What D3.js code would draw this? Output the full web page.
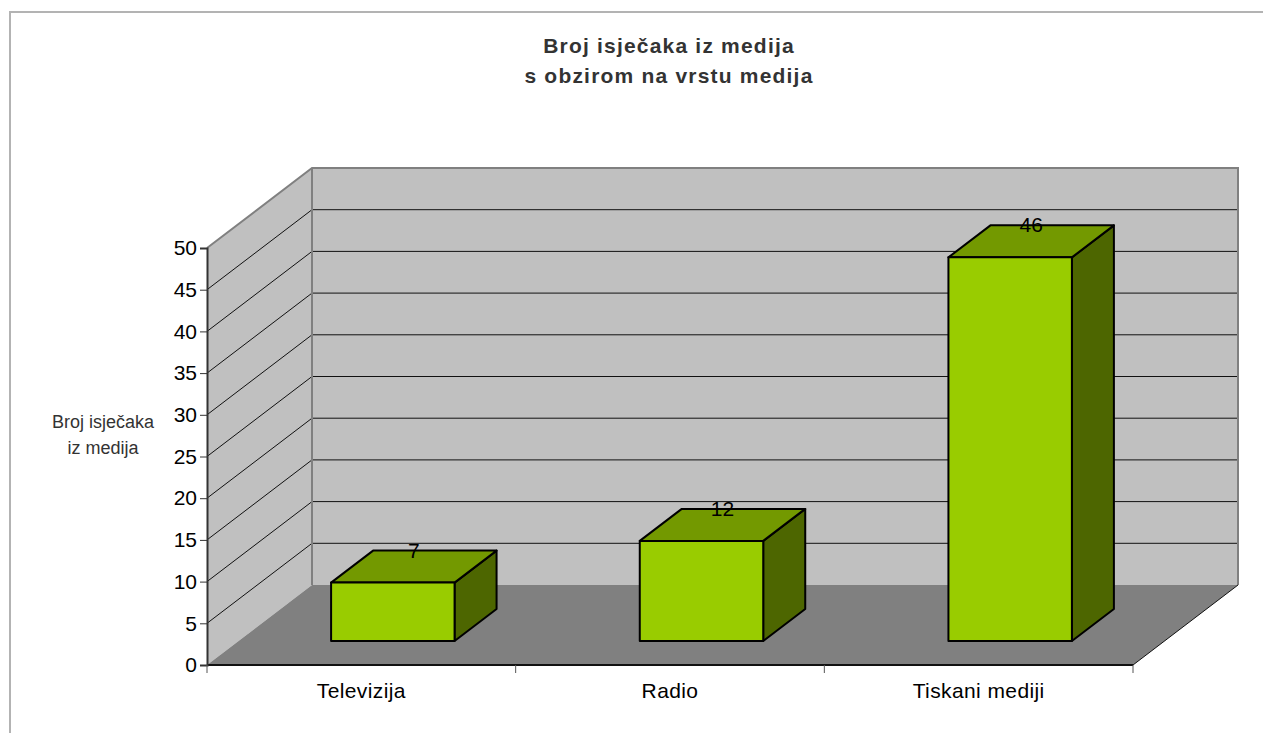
<!DOCTYPE html>
<html>
<head>
  <meta charset='utf-8'>
  <style>
    body { margin: 0; background: #fff; }
    text { font-family: 'Liberation Sans', Arial, sans-serif; }
  </style>
  <script src='https://cdn.jsdelivr.net/npm/d3@7'></script>
</head>
<body>
  <script>
    let [width, height] = [1263, 733]

    let categories = ['Televizija', 'Radio', 'Tiskani mediji']
    let values = [7, 12, 46]
    let yTicks = [0, 5, 10, 15, 20, 25, 30, 35, 40, 45, 50]
    let title = ['Broj isječaka iz medija', 's obzirom na vrstu medija']
    let yTitle = ['Broj isječaka', 'iz medija']

    // depth offset of the 3d box
    let [dx, dy] = [105, -80]
    let [plotL, plotR, plotB, plotT] = [207, 1133, 665, 248]
    let font = "'Liberation Sans', Arial, sans-serif"

    let x = d3.scaleBand(categories, [plotL, plotR]).paddingInner(0.6).paddingOuter(0.3)
    let y = d3.scaleLinear([0, 50], [plotB, plotT])
    let step = x.step()

    // project a point (front x, front y) at depth d (0..1)
    let P = (px, py, d) => [px + dx * d, py + dy * d]
    let poly = pts => 'M' + pts.map(p => p.join(',')).join('L') + 'Z'

    let svg = d3.select('body').append('svg')
      .attr('width', width).attr('height', height)

    // outer frame
    svg.append('rect')
      .attr('x', 10).attr('y', 12).attr('width', 1270).attr('height', 740)
      .attr('fill', 'none').attr('stroke', '#b3b3b3').attr('stroke-width', 2)

    // title
    svg.append('text')
      .attr('text-anchor', 'middle').attr('font-weight', 'bold')
      .attr('font-size', 21).attr('fill', '#333').attr('letter-spacing', 1.2)
      .selectAll('tspan').data(title).join('tspan')
      .attr('x', 669).attr('y', (d, i) => 53 + i * 30)
      .text(d => d)

    // walls
    let y0 = y(0), y50 = y(50)
    svg.append('path')
      .attr('d', poly([[plotL, y0], P(plotL, y0, 1), P(plotL, y50, 1), [plotL, y50]]))
      .attr('fill', '#c0c0c0')
    svg.append('path')
      .attr('d', poly([P(plotL, y0, 1), P(plotR, y0, 1), P(plotR, y50, 1), P(plotL, y50, 1)]))
      .attr('fill', '#c0c0c0')

    // grid lines on side and back wall
    let grid = svg.append('g').attr('stroke', '#111').attr('stroke-width', 1)
    grid.selectAll('.side').data(yTicks.slice(1, -1)).join('line')
      .attr('class', 'side')
      .attr('x1', plotL).attr('y1', d => y(d))
      .attr('x2', d => P(plotL, y(d), 1)[0]).attr('y2', d => P(plotL, y(d), 1)[1])
    grid.selectAll('.back').data(yTicks.slice(1, -1)).join('line')
      .attr('class', 'back')
      .attr('x1', plotL + dx).attr('y1', d => y(d) + dy)
      .attr('x2', plotR + dx).attr('y2', d => y(d) + dy)

    // wall edges
    let edge = svg.append('g').attr('fill', 'none').attr('stroke', '#808080').attr('stroke-width', 2)
    edge.append('path').attr('d', 'M' + [[plotL, y50], P(plotL, y50, 1), P(plotR, y50, 1), P(plotR, y0, 1)].map(p => p.join(',')).join('L'))
    edge.append('line')
      .attr('x1', plotL + dx).attr('y1', y0 + dy).attr('x2', plotL + dx).attr('y2', y50 + dy)

    // floor
    svg.append('path')
      .attr('d', poly([[plotL, y0], [plotR, y0], P(plotR, y0, 1), P(plotL, y0, 1)]))
      .attr('fill', '#808080')
    svg.append('line')
      .attr('x1', plotR).attr('y1', y0)
      .attr('x2', plotR + dx).attr('y2', y0 + dy)
      .attr('stroke', '#111').attr('stroke-width', 1)
    svg.append('line')
      .attr('x1', plotL).attr('y1', y0).attr('x2', plotR).attr('y2', y0)
      .attr('stroke', '#111').attr('stroke-width', 2)

    // bars
    let [d0, d1] = [0.3, 0.7]
    let bars = svg.append('g').attr('stroke', '#000').attr('stroke-width', 2).attr('stroke-linejoin', 'round')
    categories.forEach((c, i) => {
      let xa = x(c), xb = x(c) + x.bandwidth()
      let yb = y(0), yt = y(values[i])
      let g = bars.append('g')
      g.append('path').attr('fill', '#4d6600')
        .attr('d', poly([P(xb, yb, d0), P(xb, yb, d1), P(xb, yt, d1), P(xb, yt, d0)]))
      g.append('path').attr('fill', '#739900')
        .attr('d', poly([P(xa, yt, d0), P(xb, yt, d0), P(xb, yt, d1), P(xa, yt, d1)]))
      g.append('path').attr('fill', '#99cc00')
        .attr('d', poly([P(xa, yb, d0), P(xb, yb, d0), P(xb, yt, d0), P(xa, yt, d0)]))
    })

    // value labels
    svg.append('g')
      .selectAll('text').data(categories).join('text')
      .attr('text-anchor', 'middle').attr('font-size', 21).attr('fill', '#000')
      .attr('x', c => P(x(c) + x.bandwidth() / 2, 0, 0.5)[0])
      .attr('y', (c, i) => P(0, y(values[i]), 0.5)[1] - 9)
      .text((c, i) => values[i])

    // y axis
    let yAxis = svg.append('g')
      .attr('transform', `translate(${plotL},0)`)
      .call(d3.axisLeft(y).tickValues(yTicks).tickSize(7).tickPadding(3))
    yAxis.select('.domain').attr('stroke', '#333').attr('stroke-width', 2)
    yAxis.selectAll('.tick line').attr('stroke', '#333')
    yAxis.selectAll('text').attr('font-size', 21).attr('fill', '#000').style('font-family', font)

    // x axis labels
    let xAxis = svg.append('g')
      .attr('transform', `translate(0,${y0})`)
      .call(d3.axisBottom(x).tickSize(0).tickPadding(18))
    xAxis.select('.domain').remove()
    xAxis.selectAll('text').attr('font-size', 21).attr('fill', '#000')
      .attr('letter-spacing', 0.4).style('font-family', font)

    // category boundary ticks
    svg.append('g').attr('stroke', '#555')
      .selectAll('line').data(d3.range(categories.length + 1)).join('line')
      .attr('x1', i => plotL + i * step).attr('x2', i => plotL + i * step)
      .attr('y1', y0).attr('y2', y0 + 8)

    // y axis title
    svg.append('text')
      .attr('text-anchor', 'middle').attr('font-size', 18).attr('fill', '#333')
      .selectAll('tspan').data(yTitle).join('tspan')
      .attr('x', 103).attr('y', (d, i) => 428 + i * 26)
      .text(d => d)
  </script>
</body>
</html>
